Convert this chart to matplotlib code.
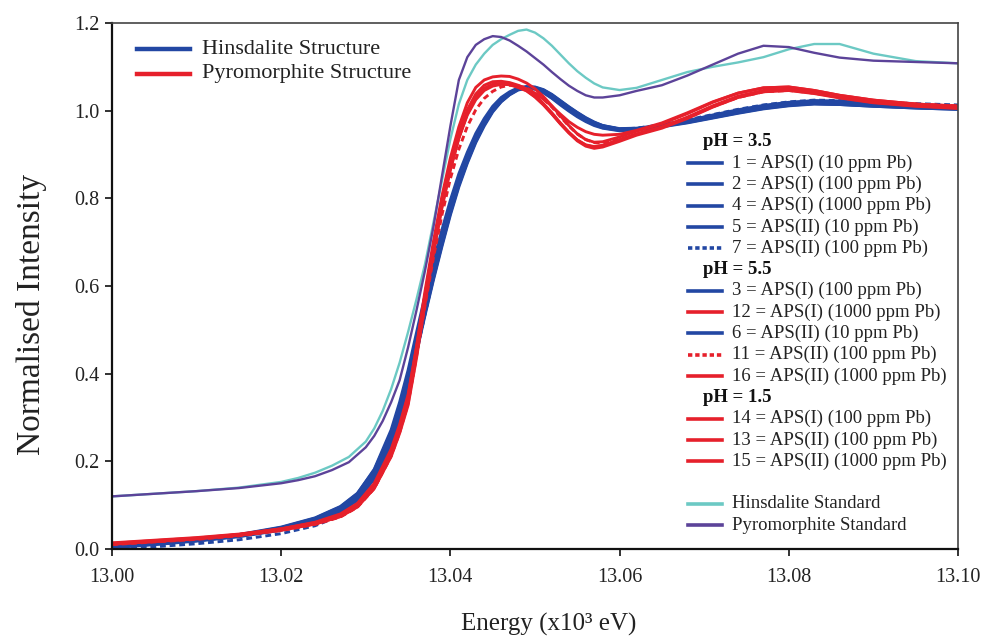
import matplotlib
matplotlib.use("Agg")
import matplotlib.pyplot as plt
from matplotlib.lines import Line2D

plt.rcParams["font.family"] = ["Liberation Serif", "DejaVu Serif"]

# Energy grid for the sample spectra (x10^3 eV)
energy = [13.000, 13.005, 13.010, 13.015, 13.020, 13.024, 13.027, 13.029, 13.031, 13.033,
          13.034, 13.035, 13.036, 13.037, 13.038, 13.039, 13.040, 13.041, 13.042, 13.043,
          13.044, 13.045, 13.046, 13.047, 13.048, 13.049, 13.050, 13.051, 13.052, 13.053,
          13.054, 13.055, 13.056, 13.057, 13.058, 13.060, 13.062, 13.065, 13.068, 13.071,
          13.074, 13.077, 13.080, 13.083, 13.086, 13.090, 13.095, 13.100]

# Energy grid for the reference standards (x10^3 eV)
std_energy = [13.000, 13.005, 13.010, 13.015, 13.020, 13.022, 13.024, 13.026, 13.028, 13.030,
              13.031, 13.032, 13.033, 13.034, 13.035, 13.036, 13.037, 13.038, 13.039, 13.040,
              13.041, 13.042, 13.043, 13.044, 13.045, 13.046, 13.047, 13.048, 13.049, 13.050,
              13.051, 13.052, 13.053, 13.054, 13.055, 13.056, 13.057, 13.058, 13.060, 13.062,
              13.065, 13.068, 13.071, 13.074, 13.077, 13.080, 13.083, 13.086, 13.090, 13.095,
              13.100]

hinsdalite_std = [0.120, 0.126, 0.132, 0.140, 0.153, 0.162, 0.174, 0.190, 0.210, 0.245,
                  0.275, 0.315, 0.365, 0.425, 0.495, 0.570, 0.650, 0.745, 0.840, 0.935,
                  1.015, 1.070, 1.105, 1.130, 1.150, 1.163, 1.173, 1.182, 1.185, 1.178,
                  1.165, 1.148, 1.128, 1.108, 1.090, 1.075, 1.062, 1.053, 1.047, 1.052,
                  1.070, 1.088, 1.100, 1.110, 1.122, 1.140, 1.152, 1.152, 1.130, 1.113,
                  1.108]
pyromorphite_std = [0.120, 0.126, 0.132, 0.139, 0.150, 0.157, 0.166, 0.180, 0.198, 0.232,
                    0.258, 0.292, 0.335, 0.385, 0.460, 0.545, 0.635, 0.735, 0.850, 0.965,
                    1.070, 1.122, 1.150, 1.163, 1.170, 1.168, 1.160, 1.148, 1.135, 1.120,
                    1.105, 1.088, 1.072, 1.057, 1.045, 1.035, 1.030, 1.030, 1.035, 1.045,
                    1.058, 1.080, 1.105, 1.130, 1.148, 1.145, 1.132, 1.121, 1.114, 1.111,
                    1.108]

# Samples with hinsdalite structure
s1 = [0.006, 0.013, 0.021, 0.032, 0.049, 0.070, 0.096, 0.126, 0.182, 0.272, 0.335, 0.408, 0.494, 0.578, 0.656, 0.728,
      0.796, 0.856, 0.905, 0.948, 0.982, 1.010, 1.030, 1.043, 1.052, 1.054, 1.050, 1.041, 1.028, 1.013, 0.999, 0.986,
      0.975, 0.966, 0.960, 0.954, 0.957, 0.966, 0.977, 0.990, 1.002, 1.012, 1.019, 1.022, 1.019, 1.014, 1.010, 1.007]
s2 = [0.004, 0.011, 0.019, 0.029, 0.044, 0.063, 0.086, 0.112, 0.162, 0.243, 0.300, 0.368, 0.452, 0.537, 0.618, 0.694,
      0.766, 0.830, 0.883, 0.930, 0.968, 0.999, 1.021, 1.037, 1.048, 1.052, 1.052, 1.046, 1.035, 1.021, 1.007, 0.994,
      0.982, 0.972, 0.965, 0.957, 0.958, 0.964, 0.973, 0.984, 0.995, 1.005, 1.012, 1.016, 1.015, 1.011, 1.007, 1.004]
s4 = [0.007, 0.014, 0.022, 0.033, 0.050, 0.071, 0.097, 0.127, 0.180, 0.266, 0.327, 0.398, 0.482, 0.566, 0.645, 0.718,
      0.786, 0.846, 0.896, 0.940, 0.975, 1.004, 1.026, 1.041, 1.051, 1.055, 1.054, 1.048, 1.037, 1.023, 1.009, 0.996,
      0.984, 0.974, 0.966, 0.958, 0.959, 0.966, 0.976, 0.988, 0.999, 1.010, 1.018, 1.023, 1.022, 1.017, 1.012, 1.008]
s5 = [0.003, 0.010, 0.018, 0.028, 0.043, 0.062, 0.085, 0.111, 0.160, 0.240, 0.297, 0.365, 0.448, 0.533, 0.614, 0.690,
      0.762, 0.826, 0.880, 0.927, 0.965, 0.997, 1.020, 1.036, 1.047, 1.051, 1.050, 1.043, 1.031, 1.017, 1.003, 0.990,
      0.978, 0.969, 0.962, 0.956, 0.958, 0.966, 0.977, 0.989, 1.000, 1.009, 1.014, 1.016, 1.014, 1.010, 1.006, 1.003]
s7 = [0.000, 0.005, 0.012, 0.021, 0.035, 0.053, 0.076, 0.103, 0.152, 0.233, 0.292, 0.362, 0.448, 0.536, 0.620, 0.698,
      0.770, 0.834, 0.887, 0.933, 0.970, 1.001, 1.023, 1.039, 1.049, 1.053, 1.052, 1.046, 1.035, 1.021, 1.007, 0.994,
      0.982, 0.972, 0.965, 0.958, 0.960, 0.968, 0.979, 0.991, 1.003, 1.013, 1.020, 1.024, 1.023, 1.020, 1.016, 1.013]
s3 = [0.005, 0.012, 0.020, 0.031, 0.047, 0.067, 0.092, 0.121, 0.174, 0.260, 0.321, 0.392, 0.477, 0.561, 0.641, 0.714,
      0.783, 0.844, 0.894, 0.938, 0.973, 1.002, 1.024, 1.039, 1.049, 1.052, 1.049, 1.041, 1.029, 1.015, 1.001, 0.988,
      0.977, 0.968, 0.961, 0.955, 0.956, 0.963, 0.972, 0.983, 0.994, 1.004, 1.011, 1.015, 1.014, 1.010, 1.006, 1.003]
s6 = [0.004, 0.011, 0.019, 0.030, 0.045, 0.064, 0.088, 0.115, 0.166, 0.250, 0.309, 0.378, 0.462, 0.547, 0.628, 0.703,
      0.773, 0.836, 0.888, 0.933, 0.970, 1.000, 1.022, 1.038, 1.049, 1.054, 1.053, 1.047, 1.036, 1.022, 1.008, 0.995,
      0.983, 0.973, 0.966, 0.959, 0.960, 0.967, 0.977, 0.988, 0.999, 1.008, 1.015, 1.019, 1.018, 1.014, 1.010, 1.006]

# Samples with pyromorphite structure
s12 = [0.011, 0.017, 0.024, 0.033, 0.046, 0.061, 0.080, 0.104, 0.150, 0.228, 0.284, 0.352, 0.460, 0.580, 0.690, 0.788,
       0.870, 0.938, 0.990, 1.025, 1.046, 1.056, 1.060, 1.060, 1.056, 1.050, 1.040, 1.026, 1.010, 0.992, 0.975, 0.962,
       0.952, 0.946, 0.944, 0.946, 0.955, 0.972, 0.995, 1.020, 1.040, 1.052, 1.054, 1.046, 1.035, 1.024, 1.015, 1.010]
s11 = [0.010, 0.016, 0.022, 0.030, 0.042, 0.056, 0.073, 0.095, 0.138, 0.212, 0.266, 0.332, 0.440, 0.555, 0.665, 0.762,
       0.845, 0.912, 0.964, 1.002, 1.028, 1.044, 1.054, 1.058, 1.057, 1.052, 1.042, 1.027, 1.008, 0.986, 0.965, 0.947,
       0.934, 0.927, 0.926, 0.934, 0.946, 0.962, 0.984, 1.009, 1.030, 1.043, 1.046, 1.040, 1.031, 1.022, 1.015, 1.011]
s16 = [0.013, 0.019, 0.025, 0.033, 0.045, 0.059, 0.076, 0.099, 0.143, 0.219, 0.275, 0.342, 0.455, 0.578, 0.692, 0.793,
       0.878, 0.948, 1.002, 1.038, 1.058, 1.066, 1.067, 1.064, 1.058, 1.049, 1.035, 1.016, 0.995, 0.972, 0.951, 0.933,
       0.921, 0.917, 0.920, 0.933, 0.946, 0.962, 0.984, 1.009, 1.031, 1.044, 1.047, 1.040, 1.030, 1.019, 1.011, 1.006]
s14 = [0.014, 0.020, 0.026, 0.034, 0.046, 0.060, 0.078, 0.101, 0.146, 0.224, 0.280, 0.348, 0.462, 0.588, 0.702, 0.805,
       0.892, 0.963, 1.018, 1.053, 1.070, 1.077, 1.079, 1.078, 1.072, 1.063, 1.050, 1.032, 1.011, 0.988, 0.966, 0.947,
       0.934, 0.928, 0.929, 0.940, 0.953, 0.970, 0.993, 1.019, 1.040, 1.052, 1.054, 1.046, 1.035, 1.024, 1.015, 1.010]
s13 = [0.012, 0.018, 0.024, 0.032, 0.043, 0.057, 0.074, 0.096, 0.139, 0.214, 0.268, 0.334, 0.444, 0.566, 0.680, 0.782,
       0.868, 0.940, 0.995, 1.031, 1.051, 1.060, 1.062, 1.060, 1.054, 1.046, 1.032, 1.014, 0.993, 0.970, 0.949, 0.931,
       0.919, 0.914, 0.917, 0.930, 0.944, 0.960, 0.982, 1.008, 1.030, 1.043, 1.046, 1.039, 1.029, 1.018, 1.010, 1.005]
s15 = [0.011, 0.017, 0.023, 0.031, 0.043, 0.057, 0.074, 0.096, 0.138, 0.211, 0.264, 0.328, 0.436, 0.560, 0.675, 0.778,
       0.865, 0.937, 0.993, 1.030, 1.050, 1.059, 1.061, 1.059, 1.053, 1.045, 1.031, 1.013, 0.992, 0.970, 0.950, 0.933,
       0.922, 0.918, 0.921, 0.934, 0.947, 0.963, 0.985, 1.011, 1.033, 1.046, 1.049, 1.042, 1.032, 1.021, 1.013, 1.007]

BLUE = "#2247a3"
RED = "#e6202b"
CYAN = "#6cc9c4"
PURPLE = "#5c4399"

# (header, [(label, series, colour, dashed), ...])
groups = [
    ("pH = 3.5", [("1 = APS(I) (10 ppm Pb)", s1, BLUE, False),
                  ("2 = APS(I) (100 ppm Pb)", s2, BLUE, False),
                  ("4 = APS(I) (1000 ppm Pb)", s4, BLUE, False),
                  ("5 = APS(II) (10 ppm Pb)", s5, BLUE, False),
                  ("7 = APS(II) (100 ppm Pb)", s7, BLUE, True)]),
    ("pH = 5.5", [("3 = APS(I) (100 ppm Pb)", s3, BLUE, False),
                  ("12 = APS(I) (1000 ppm Pb)", s12, RED, False),
                  ("6 = APS(II) (10 ppm Pb)", s6, BLUE, False),
                  ("11 = APS(II) (100 ppm Pb)", s11, RED, True),
                  ("16 = APS(II) (1000 ppm Pb)", s16, RED, False)]),
    ("pH = 1.5", [("14 = APS(I) (100 ppm Pb)", s14, RED, False),
                  ("13 = APS(II) (100 ppm Pb)", s13, RED, False),
                  ("15 = APS(II) (1000 ppm Pb)", s15, RED, False)]),
]
standards = [("Hinsdalite Standard", hinsdalite_std, CYAN),
             ("Pyromorphite Standard", pyromorphite_std, PURPLE)]

DASH = (0, (2.0, 1.3))

fig = plt.figure(figsize=(9.89, 6.40), dpi=100)
ax = fig.add_axes([0.1132, 0.1422, 0.8555, 0.8219])

# sample spectra: blue family first, red family on top
for wanted in (BLUE, RED):
    for _, rows in groups:
        for label, ys, col, dashed in rows:
            if col != wanted:
                continue
            ax.plot(energy, ys, color=col, lw=2.1,
                    ls=DASH if dashed else "-", solid_capstyle="butt")
for label, ys, col in standards:
    ax.plot(std_energy, ys, color=col, lw=1.7)

ax.set_xlim(13.00, 13.10)
ax.set_ylim(0.0, 1.2)
ax.set_xticks([13.00, 13.02, 13.04, 13.06, 13.08, 13.10])
ax.set_xticklabels(["13.00", "13.02", "13.04", "13.06", "13.08", "13.10"])
ax.set_yticks([0.0, 0.2, 0.4, 0.6, 0.8, 1.0, 1.2])
ax.set_yticklabels(["0.0", "0.2", "0.4", "0.6", "0.8", "1.0", "1.2"])
ax.tick_params(direction="out", length=5, width=1.3, labelsize=14.5, colors="#222222", pad=4)
ax.tick_params(axis="x", pad=9)
for side in ("left", "bottom"):
    ax.spines[side].set_linewidth(1.6)
    ax.spines[side].set_color("#111111")
for side in ("top", "right"):
    ax.spines[side].set_linewidth(1.2)
    ax.spines[side].set_color("#444444")

ax.set_xlabel("Energy (x10³ eV)", fontsize=18, color="#222222")
ax.set_ylabel("Normalised Intensity", fontsize=24, color="#222222")
ax.xaxis.set_label_coords(0.5165, -0.122)
ax.yaxis.set_label_coords(-0.077, 0.445)

# structure key, top left
tr = ax.transAxes
for i, (txt, col) in enumerate([("Hinsdalite Structure", BLUE), ("Pyromorphite Structure", RED)]):
    yy = 0.950 - i * 0.047
    ax.add_line(Line2D([0.0296, 0.0922], [yy, yy], transform=tr, color=col, lw=3.2))
    ax.text(0.106, yy, txt, transform=tr, fontsize=16, va="center", ha="left", color="#222222")

# sample key, right side
row_h = 21.3 / 526.0
y0 = (549 - 141.7) / 526.0
row = 0
for header, rows in groups:
    ax.text(0.6986, y0 - row * row_h, header, transform=tr, fontsize=13.5,
            fontweight="bold", va="center", ha="left", color="#111111")
    row += 1
    for label, ys, col, dashed in rows:
        yy = y0 - row * row_h
        ax.add_line(Line2D([0.681, 0.721], [yy, yy], transform=tr, color=col, lw=2.6,
                           ls=(0, (1.2, 0.8)) if dashed else "-"))
        ax.text(0.7325, yy, label, transform=tr, fontsize=13.5, va="center", ha="left",
                color="#222222")
        row += 1
row += 1
for label, ys, col in standards:
    yy = y0 - row * row_h
    ax.add_line(Line2D([0.681, 0.721], [yy, yy], transform=tr, color=col, lw=2.6))
    ax.text(0.7325, yy, label, transform=tr, fontsize=13.5, va="center", ha="left",
            color="#222222")
    row += 1

fig.savefig("out.png", dpi=100, facecolor="white")
